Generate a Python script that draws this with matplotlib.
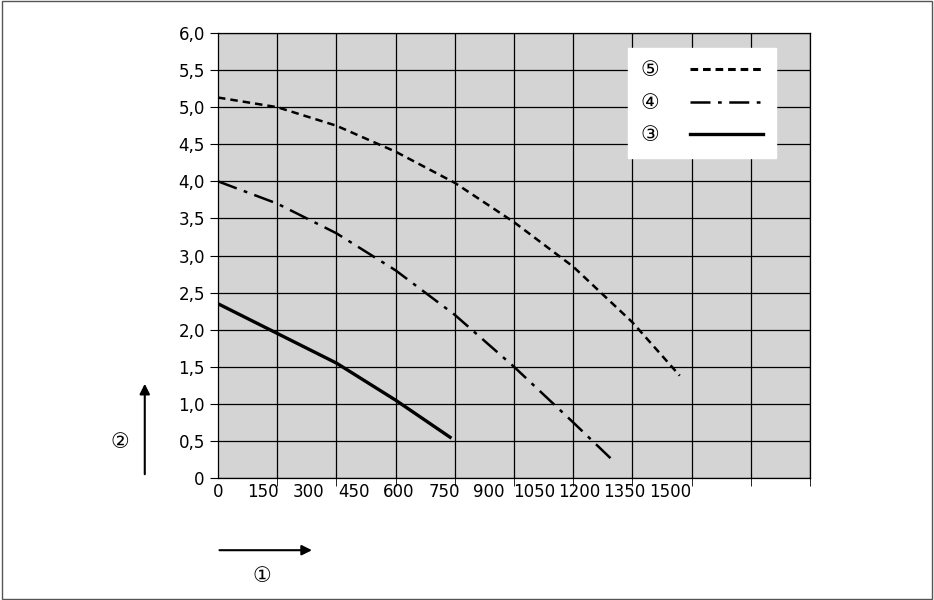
import matplotlib
matplotlib.use("Agg")
import matplotlib.pyplot as plt
from matplotlib.lines import Line2D

FAM = ['DejaVu Sans', 'Noto Sans CJK SC']
plt.rcParams['font.family'] = FAM

tick_labels = ["0", "150", "300", "450", "600", "750", "900", "1050", "1200", "1350", "1500"]
x5 = [0, 150, 300, 450, 600, 750, 900, 1050, 1170]
y5 = [5.13, 5.0, 4.75, 4.4, 3.98, 3.45, 2.85, 2.1, 1.38]
x4 = [0, 150, 300, 450, 600, 750, 900, 998]
y4 = [4.0, 3.7, 3.3, 2.8, 2.2, 1.5, 0.75, 0.25]
x3 = [0, 150, 300, 450, 588]
y3 = [2.35, 1.95, 1.55, 1.05, 0.55]

fig = plt.figure(figsize=(9.34, 6.0), dpi=100)
ax = fig.add_axes([0.2334, 0.2033, 0.6338, 0.7417])
ax.set_facecolor('#d4d4d4')
ax.set_xlim(0, 1500)
ax.set_ylim(0, 6)
ax.set_xticks(range(0, 1501, 150), minor=True)
yt = [i * 0.5 for i in range(13)]
ax.set_yticks(yt)
ax.set_yticklabels(["0"] + [f"{v:.1f}".replace('.', ',') for v in yt[1:]])
ax.set_xticks([i * 114.5 for i in range(len(tick_labels))], tick_labels)
ax.tick_params(axis='x', which='major', length=0, labelsize=12)
ax.tick_params(axis='x', which='minor', length=6, direction='out')
ax.tick_params(axis='y', labelsize=12, length=6)
ax.grid(True, which='minor', axis='x', color='black', lw=0.9)
ax.grid(True, which='major', axis='y', color='black', lw=0.9)
for s in ax.spines.values():
    s.set_linewidth(0.9)

ax.plot(x5, y5, color='black', lw=1.8, ls=(0, (3, 2)))
ax.plot(x4, y4, color='black', lw=1.8, ls=(0, (8, 3, 1.5, 3)))
ax.plot(x3, y3, color='black', lw=2.4, ls='-')

handles = [Line2D([], [], color='black', lw=2.2, ls=(0, (2.5, 1.6))),
           Line2D([], [], color='black', lw=1.8, ls=(0, (8, 3, 1.5, 3))),
           Line2D([], [], color='black', lw=2.4)]
ax.legend(handles, ['⑤', '④', '③'], loc='upper right', bbox_to_anchor=(0.96, 0.99),
          fancybox=False, framealpha=1, edgecolor='white', fontsize=15,
          markerfirst=False, handlelength=3.5, handletextpad=1.5, labelspacing=0.6,
          borderpad=0.6)

fig.patches.append(plt.Rectangle((0.002, 0.002), 0.996, 0.996, transform=fig.transFigure,
                                 fill=False, ec='#555555', lw=1))
fig.add_artist(matplotlib.patches.FancyArrowPatch((0.155, 0.205), (0.155, 0.365),
               transform=fig.transFigure, arrowstyle='-|>', mutation_scale=15, color='black', lw=1.5))
fig.text(0.128, 0.263, '②', fontsize=15, ha='center', va='center')
fig.add_artist(matplotlib.patches.FancyArrowPatch((0.232, 0.083), (0.337, 0.083),
               transform=fig.transFigure, arrowstyle='-|>', mutation_scale=15, color='black', lw=1.5))
fig.text(0.280, 0.04, '①', fontsize=15, ha='center', va='center')

fig.savefig('out.png', dpi=100)
